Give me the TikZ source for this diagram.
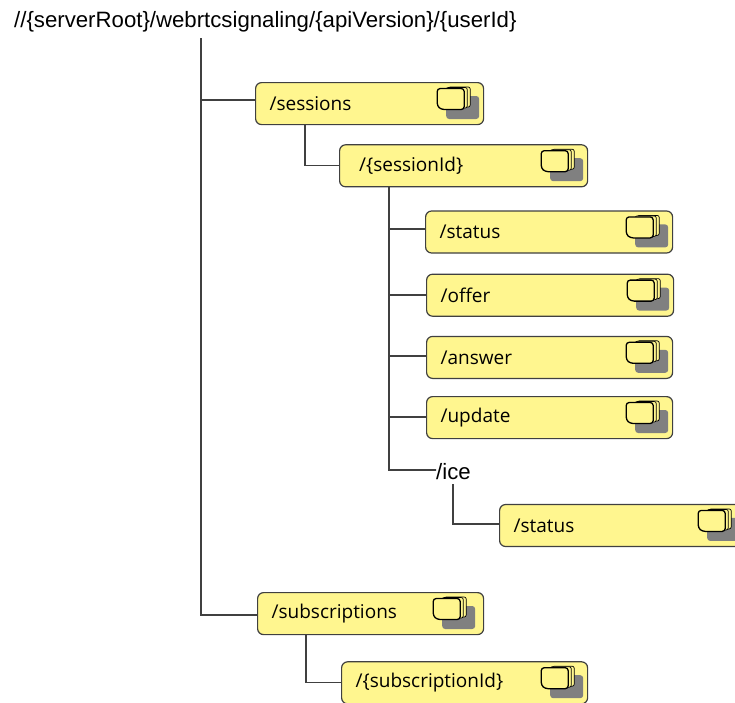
\documentclass[tikz,border=0pt]{standalone}
\usepackage{fontspec}
\setmainfont{Liberation Sans}
\newfontfamily\boxfont{Open Sans}
\usetikzlibrary{positioning}

\definecolor{boxyellow}{HTML}{FFF68F}
\definecolor{boxline}{HTML}{404040}
\definecolor{iconshadow}{HTML}{808080}

\tikzset{
    apibox/.style={draw=boxline, fill=boxyellow, line width=1.2pt, rounded corners=6pt,
        minimum height=42pt, inner xsep=14pt, inner ysep=0pt, text width=219pt, align=left,
        font=\boxfont\fontsize{19}{22}\selectfont},
    plainpath/.style={inner sep=0pt, font=\fontsize{22.2}{26}\selectfont},
    link/.style={draw=boxline, line width=1.3pt},
    iconpage/.style={draw=black, fill=boxyellow, line width=1pt, line join=round}
}

% small stack of pages, sits in the top right corner of a box
\newcommand{\pageicon}[2][0]{
    \begin{scope}[shift={(#2.north east)}, xshift=#1]
        \fill[iconshadow, rounded corners=3pt] (-38,-14) rectangle (-5,-37);
        \draw[iconpage, line width=.7pt, rounded corners=2pt] (-36,-5) rectangle (-14,-25);
        \draw[iconpage, line width=.7pt, rounded corners=2pt] (-38,-5.5) rectangle (-17,-26);
        \draw[iconpage, line width=1.3pt, rounded corners=3pt] (-47,-6.5) -- (-20,-6.5) -- (-20,-27.5) -- (-43,-27.5) -- (-47,-24) -- cycle;
    \end{scope}
}

\begin{document}
\begin{tikzpicture}[x=1pt, y=1pt]
    \clip (0,0) rectangle (735,-702);

    \node (root) [plainpath, anchor=west] at (14,-22) {//\{serverRoot\}/webrtcsignaling/\{apiVersion\}/\{userId\}};
    \coordinate (root trunk) at (201,-38);

    \node (sessions) [apibox, anchor=north west, text width=200pt] at (255,-82) {/sessions};
    \node (sessionId) [apibox, below right=19pt and 84pt of sessions.south west, text width=220pt] {\hspace{5.5pt}/\{sessionId\}};
    \node (status) [apibox, below right=23pt and 86pt of sessionId.south west] {/status};
    \node (offer) [apibox, below right=20pt and 1pt of status.south west] {/offer};
    \node (answer) [apibox, below=19pt of offer.south west, anchor=north west, text width=218pt] {/answer};
    \node (update) [apibox, below=17pt of answer.south west, anchor=north west, text width=218pt] {/update};
    \node (ice) [plainpath, below right=24pt and 10pt of update.south west] {/ice};
    \node (ice status) [apibox, below right=24pt and 63pt of ice.south west, text width=217pt] {/status};

    \node (subscriptions) [apibox, anchor=north west, text width=198pt] at (257,-592) {/subscriptions};
    \node (subscriptionId) [apibox, below right=26pt and 84pt of subscriptions.south west, text width=218pt] {/\{subscriptionId\}};

    \pageicon{sessions}
    \pageicon{sessionId}
    \pageicon{status}
    \pageicon{offer}
    \pageicon{answer}
    \pageicon{update}
    \pageicon{ice status}
    \pageicon[-4pt]{subscriptions}
    \pageicon{subscriptionId}

    \draw[link] (root trunk) -- (201,-615) -- (subscriptions.west |- 0,-615);
    \draw[link] (201,-100) -- (sessions.west |- 0,-100);
    \draw[link] (305,-124) |- (sessionId.west);
    \draw[link] (389,-187) |- (ice.west |- 0,-470) -- ++(-14,0);
    \draw[link] (389,-229) -- (status.west |- 0,-229);
    \draw[link] (389,-295) -- (offer.west |- 0,-295);
    \draw[link] (389,-356) -- (answer.west |- 0,-356);
    \draw[link] (389,-417) -- (update.west |- 0,-417);
    \draw[link] (453,-484) |- (ice status.west |- 0,-524);
    \draw[link] (306,-634) |- (subscriptionId.west);
\end{tikzpicture}
\end{document}
